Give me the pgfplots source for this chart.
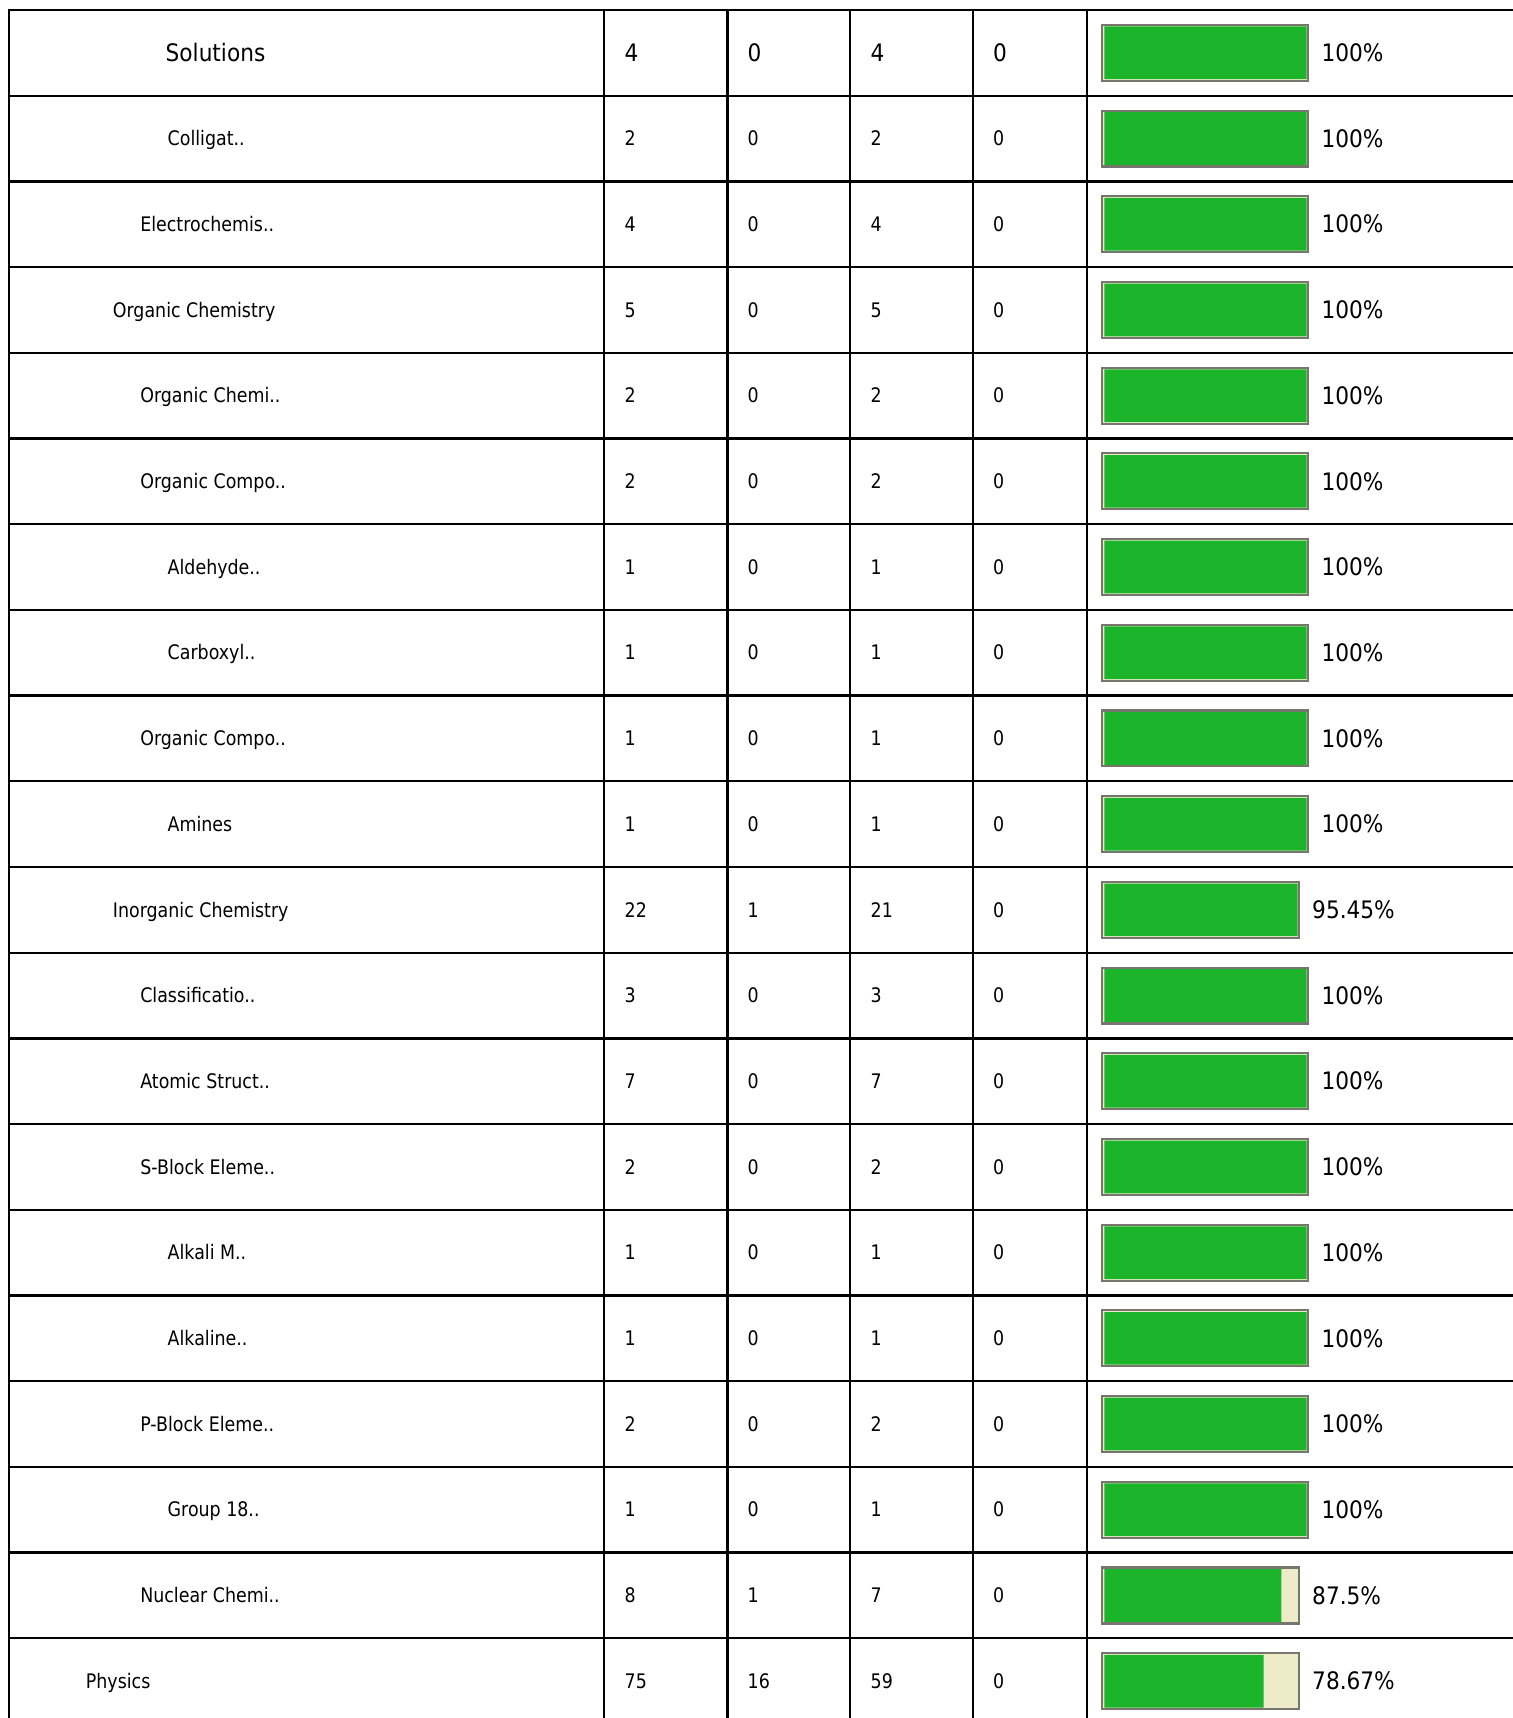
\documentclass[border=0pt]{standalone}
\usepackage{fontspec}
\setmainfont{DejaVu Sans}[FakeStretch=0.87]
\newfontfamily\bigfam{DejaVu Sans}[FakeStretch=0.9]
\usepackage{pgfplots}
\usepackage{pgfplotstable}
\pgfplotsset{compat=1.18}
\definecolor{bargreen}{RGB}{28,180,42}
\definecolor{barcream}{RGB}{238,235,200}
\definecolor{boxgray}{RGB}{118,118,110}
\newcommand\smallfont{\fontsize{5.7}{6.5}\selectfont}
\newcommand\bigfont{\bigfam\fontsize{6.85}{8}\selectfont}

% row = table row, lx = label x (px), boxw = width of the bar frame (px)
\pgfplotstableread[col sep=semicolon]{
row;lx;label;tot;wr;cor;un;pct;boxw
0;165;Solutions;4;0;4;0;100;206.6
1;167;Colligat..;2;0;2;0;100;206.6
2;139.6;Electrochemis..;4;0;4;0;100;206.6
3;112.2;Organic Chemistry;5;0;5;0;100;206.6
4;139.6;Organic Chemi..;2;0;2;0;100;206.6
5;139.6;Organic Compo..;2;0;2;0;100;206.6
6;167;Aldehyde..;1;0;1;0;100;206.6
7;167;Carboxyl..;1;0;1;0;100;206.6
8;139.6;Organic Compo..;1;0;1;0;100;206.6
9;167;Amines;1;0;1;0;100;206.6
10;112.2;Inorganic Chemistry;22;1;21;0;95.45;197.3
11;139.6;Classificatio..;3;0;3;0;100;206.6
12;139.6;Atomic Struct..;7;0;7;0;100;206.6
13;139.6;S-Block Eleme..;2;0;2;0;100;206.6
14;167;Alkali M..;1;0;1;0;100;206.6
15;167;Alkaline..;1;0;1;0;100;206.6
16;139.6;P-Block Eleme..;2;0;2;0;100;206.6
17;167;Group 18..;1;0;1;0;100;206.6
18;139.6;Nuclear Chemi..;8;1;7;0;87.5;197.3
19;85.2;Physics;75;16;59;0;78.67;197.3
}\rows

\pgfplotsset{
    sheet/.style = {
        width = 15.13cm, height = 17.18cm, scale only axis,
        hide axis, enlargelimits = false,
        y dir = reverse, ymin = -0.6167, ymax = 19.430,
    },
    txt/.style = {
        draw = none, mark = none,
        nodes near coords, point meta = explicit symbolic,
        nodes near coords style = {anchor = base west, inner sep = 0pt, font = #1},
    },
    small/.style = {txt = \smallfont, skip coords between index = {0}{1},
        nodes near coords style = {yshift = -0.072cm}},
    big/.style = {txt = \bigfont, skip coords between index = {1}{20},
        nodes near coords style = {yshift = -0.0875cm}},
}

\begin{document}
\begin{tikzpicture}
    % grid and texts, x in pixels
    \begin{axis}[sheet, xmin = 0, xmax = 1513]
        \pgfplotsinvokeforeach{-0.5,0.5,...,18.5}{
            \addplot[black, line width = 0.023cm] coordinates {(8,#1) (1513,#1)};
        }
        \pgfplotsinvokeforeach{9,604.3,727.4,850,973.2,1086.8}{
            \addplot[black, line width = 0.023cm] coordinates {(#1,-0.5) (#1,19.5)};
        }
        \addplot[small] table[x = lx, y = row, meta = label] {\rows};
        \addplot[big] table[x = lx, y = row, meta = label] {\rows};
        \addplot[small] table[x expr = 624, y = row, meta = tot] {\rows};
        \addplot[big] table[x expr = 624, y = row, meta = tot] {\rows};
        \addplot[small] table[x expr = 747, y = row, meta = wr] {\rows};
        \addplot[big] table[x expr = 747, y = row, meta = wr] {\rows};
        \addplot[small] table[x expr = 870, y = row, meta = cor] {\rows};
        \addplot[big] table[x expr = 870, y = row, meta = cor] {\rows};
        \addplot[small] table[x expr = 992.5, y = row, meta = un] {\rows};
        \addplot[big] table[x expr = 992.5, y = row, meta = un] {\rows};
        \addplot[txt = \bigfont, nodes near coords = {\pgfplotspointmeta\%},
            nodes near coords style = {yshift = -0.0865cm}]
            table[x expr = {1101.7 + \thisrow{boxw} + 12.5}, y = row, meta = pct] {\rows};
    \end{axis}
    % bar frames, x in pixels from the frame's left edge
    \begin{axis}[sheet, xmin = -1101.7, xmax = 411.3]
        \addplot[xbar, bar width = 0.653, fill = barcream, draw = boxgray, line width = 0.6pt]
            table[x = boxw, y = row] {\rows};
    \end{axis}
    % progress bars, x in percent
    \begin{axis}[sheet, xmin = -545.6, xmax = 201.93]
        \addplot[xbar, bar width = 0.615, fill = bargreen, draw = none]
            table[x = pct, y = row] {\rows};
    \end{axis}
    \pgfresetboundingbox
    \path[use as bounding box] (0,0) rectangle (15.13cm,17.18cm);
\end{tikzpicture}
\end{document}
